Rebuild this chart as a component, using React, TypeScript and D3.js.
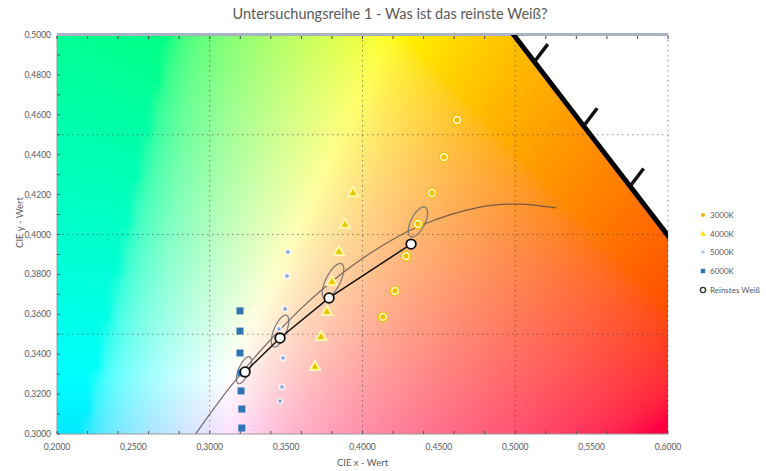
import React, { useMemo } from "react";
import * as d3 from "d3";

const W = 766;
const H = 471;
const TITLE = "Untersuchungsreihe 1 - Was ist das reinste Weiß?";
const X_LABEL = "CIE x - Wert";
const Y_LABEL = "CIE y - Wert";

const X_TICKS = [0.2, 0.25, 0.3, 0.35, 0.4, 0.45, 0.5, 0.55, 0.6];
const Y_TICKS = [0.3, 0.32, 0.34, 0.36, 0.38, 0.4, 0.42, 0.44, 0.46, 0.48, 0.5];
const X_GRID = [0.3, 0.4, 0.5];
const Y_GRID = [0.35, 0.4, 0.45];

// measured series
const S3000_X = [0.4619, 0.4534, 0.4455, 0.4363, 0.4285, 0.4213, 0.4134];
const S3000_Y = [0.4574, 0.4388, 0.4208, 0.4053, 0.3892, 0.3717, 0.3587];
const S4000_X = [0.3938, 0.3885, 0.3846, 0.38, 0.3767, 0.3728, 0.3689];
const S4000_Y = [0.4213, 0.4053, 0.3917, 0.3767, 0.3617, 0.3491, 0.3341];
const S5000_X = [0.3512, 0.3506, 0.3493, 0.3453, 0.348, 0.3473, 0.346];
const S5000_Y = [0.3912, 0.3792, 0.3627, 0.3526, 0.3381, 0.3236, 0.3165];
const S6000_X = [0.3198, 0.3198, 0.3198, 0.3205, 0.3205, 0.321, 0.321];
const S6000_Y = [0.3617, 0.3516, 0.3406, 0.3306, 0.3216, 0.3125, 0.303];
const PURE_X = [0.3231, 0.346, 0.3781, 0.4318];
const PURE_Y = [0.3311, 0.3481, 0.3682, 0.3952];

// Planckian locus (CIE 1931 xy)
const PLANCK_T = [2000, 2200, 2500, 3000, 3500, 4000, 4500, 5000, 5500, 6000, 6500, 7000, 8000, 9000];
const PLANCK_X = [0.5267, 0.502, 0.477, 0.4369, 0.4053, 0.3805, 0.3608, 0.3451, 0.3325, 0.3221, 0.3135, 0.3064, 0.2952, 0.2869];
const PLANCK_Y = [0.4133, 0.4152, 0.4137, 0.4041, 0.3907, 0.3768, 0.3636, 0.3516, 0.3411, 0.3318, 0.3237, 0.3166, 0.3048, 0.2956];

// tolerance ellipses
const ELL_CX = [0.4363, 0.3807, 0.346, 0.3224];
const ELL_CY = [0.4063, 0.3767, 0.3516, 0.332];
const ELL_A = [0.0088, 0.01035, 0.009, 0.0077];
const ELL_B = [0.0043, 0.0044, 0.0039, 0.0033];
const ELL_THETA = [53, 54, 59, 58];

// spectral locus (CIE 1931 2°)
const LOCUS_NM = [560, 565, 570, 575, 580, 585, 590, 595, 600, 605, 610];
const LOCUS_X = [0.3731, 0.4087, 0.4441, 0.4788, 0.5125, 0.5448, 0.5752, 0.6029, 0.627, 0.6482, 0.6658];
const LOCUS_Y = [0.6245, 0.5896, 0.5547, 0.5202, 0.4866, 0.4544, 0.4242, 0.3965, 0.3725, 0.3514, 0.334];
const LOCUS_TICKS = [580, 585, 590];

const LEGEND = ["3000K", "4000K", "5000K", "6000K", "Reinstes Weiß"];

const FONT = "Lato, 'Open Sans', sans-serif";
const TXT = "#595959";

const PL = 57, PR = 668, PT = 35, PB = 434;

function xyToRgb(x: number, y: number): string {
  const X = x / y;
  const Y = 1;
  const Z = (1 - x - y) / y;
  let r = 3.2406 * X - 1.5372 * Y - 0.4986 * Z;
  let g = -0.9689 * X + 1.8758 * Y + 0.0415 * Z;
  let b = 0.0557 * X - 0.204 * Y + 1.057 * Z;
  r = Math.max(0, r);
  g = Math.max(0, g);
  b = Math.max(0, b);
  const m = Math.max(r, g, b, 1e-6);
  const gam = (v: number) => {
    v = v / m;
    return v <= 0.0031308 ? 12.92 * v : 1.055 * Math.pow(v, 1 / 2.4) - 0.055;
  };
  return d3.rgb(gam(r) * 255, gam(g) * 255, gam(b) * 255).formatHex();
}

const fmt = (v: number, d: number) => d3.format(`.${d}f`)(v).replace(".", ",");

export default function App() {
  const x = d3.scaleLinear().domain([0.2, 0.6]).range([PL, PR]);
  const y = d3.scaleLinear().domain([0.3, 0.5]).range([PB, PT]);

  const rows = useMemo(() => {
    const out: { py: number; stops: { o: number; c: string }[] }[] = [];
    for (let py = PT; py < PB; py += 2) {
      const dy = y.invert(py + 1);
      const stops: { o: number; c: string }[] = [];
      for (let px = PL; px <= PR + 0.1; px += 10) {
        const dx = x.invert(px);
        stops.push({ o: (px - PL) / (PR - PL), c: xyToRgb(dx, dy) });
      }
      out.push({ py, stops });
    }
    return out;
  }, []);

  const locusPts = LOCUS_X.map((lx, i) => [x(lx), y(LOCUS_Y[i])] as [number, number]);
  const clipPoly = [
    [x(0.15), y(0.7)],
    ...locusPts,
    [x(0.7), y(0.25)],
    [x(0.15), y(0.25)],
  ];

  const planckLine = d3
    .line<number>()
    .x((i) => x(PLANCK_X[i]))
    .y((i) => y(PLANCK_Y[i]))
    .curve(d3.curveCatmullRom)(PLANCK_T.map((_, i) => i));

  const pureLine = d3
    .line<number>()
    .x((i) => x(PURE_X[i]))
    .y((i) => y(PURE_Y[i]))(PURE_X.map((_, i) => i));

  const ellipses = ELL_CX.map((cx, k) => {
    const th = (ELL_THETA[k] * Math.PI) / 180;
    const pts = d3.range(0, 72).map((j) => {
      const t = (j / 72) * 2 * Math.PI;
      const ex = cx + ELL_A[k] * Math.cos(th) * Math.cos(t) - ELL_B[k] * Math.sin(th) * Math.sin(t);
      const ey = ELL_CY[k] + ELL_A[k] * Math.sin(th) * Math.cos(t) + ELL_B[k] * Math.cos(th) * Math.sin(t);
      return [x(ex), y(ey)] as [number, number];
    });
    return d3.line().curve(d3.curveLinearClosed)(pts);
  });

  const locusTicks = LOCUS_TICKS.map((nm) => {
    const i = LOCUS_NM.indexOf(nm);
    const tx = LOCUS_X[i + 1] - LOCUS_X[i - 1];
    const ty = LOCUS_Y[i + 1] - LOCUS_Y[i - 1];
    const len = Math.hypot(tx, ty);
    const nx = ty / len;
    const ny = -tx / len;
    const L = 0.0125;
    return {
      x1: x(LOCUS_X[i]),
      y1: y(LOCUS_Y[i]),
      x2: x(LOCUS_X[i] - nx * L),
      y2: y(LOCUS_Y[i] - ny * L),
    };
  });

  const tri = d3.symbol().type(d3.symbolTriangle).size(55)() as string;
  const triSmall = d3.symbol().type(d3.symbolTriangle).size(14)() as string;

  const legendY = [215, 234, 252, 271, 290];

  return (
    <svg
      width={W}
      height={H}
      style={{ position: "absolute", left: 0, top: 0, background: "#fff" }}
      fontFamily={FONT}
    >
      <defs>
        {rows.map((r, i) => (
          <linearGradient key={i} id={`row${i}`} gradientUnits="userSpaceOnUse" x1={PL} x2={PR} y1={0} y2={0}>
            {r.stops.map((s, j) => (
              <stop key={j} offset={s.o} stopColor={s.c} />
            ))}
          </linearGradient>
        ))}
        <clipPath id="plotClip">
          <rect x={PL} y={PT} width={PR - PL} height={PB - PT} />
        </clipPath>
        <clipPath id="locusClip">
          <polygon points={clipPoly.map((p) => p.join(",")).join(" ")} />
        </clipPath>
      </defs>

      <rect width={W} height={H} fill="#fff" />

      <text x={390} y={19} textAnchor="middle" fontSize={14.5} fill={TXT}>
        {TITLE}
      </text>

      {/* background chromaticity */}
      <g clipPath="url(#plotClip)">
        <g clipPath="url(#locusClip)">
          {rows.map((r, i) => (
            <rect key={i} x={PL} y={r.py} width={PR - PL} height={2.6} fill={`url(#row${i})`} />
          ))}
        </g>
      </g>

      {/* grid */}
      <g stroke="#3a3a3a" strokeOpacity={0.55} strokeWidth={1} strokeDasharray="1.5,3.5">
        {X_GRID.map((g) => (
          <line key={"gx" + g} x1={x(g)} x2={x(g)} y1={PT} y2={PB} />
        ))}
        {Y_GRID.map((g) => (
          <line key={"gy" + g} x1={PL} x2={PR} y1={y(g)} y2={y(g)} />
        ))}
        <line x1={PR} x2={PR} y1={PT} y2={PB} />
      </g>

      {/* axes */}
      <g stroke="#9a9a9a" strokeWidth={1}>
        <line x1={PL} x2={PL} y1={PT} y2={PB} />
        <line x1={PL} x2={PR} y1={PB} y2={PB} />
        {d3.range(0.3, 0.5001, 0.01).map((v) => (
          <line key={"ty" + v} x1={PL} x2={PL + 3} y1={y(v)} y2={y(v)} stroke="#555" />
        ))}
        {d3.range(0.2, 0.6001, 0.02).map((v) => (
          <line key={"tx" + v} x1={x(v)} x2={x(v)} y1={PB} y2={PB - 3} stroke="#555" />
        ))}
      </g>
      <rect x={PL} y={PT - 2} width={PR - PL} height={3} fill="#a9b3c6" />
      {d3.range(0.2, 0.6001, 0.02).map((v) => (
        <line key={"tt" + v} x1={x(v)} x2={x(v)} y1={PT + 1} y2={PT + 4} stroke="#444" strokeWidth={1} />
      ))}

      {/* spectral locus */}
      <g clipPath="url(#plotClip)">
        <path
          d={d3.line()(locusPts) as string}
          fill="none"
          stroke="#000"
          strokeWidth={5}
          strokeLinejoin="round"
        />
        {locusTicks.map((t, i) => (
          <line key={i} x1={t.x1} y1={t.y1} x2={t.x2} y2={t.y2} stroke="#111" strokeWidth={3.5} />
        ))}
      </g>

      {/* planckian locus */}
      <g clipPath="url(#plotClip)">
        <path d={planckLine as string} fill="none" stroke="#4a4040" strokeOpacity={0.75} strokeWidth={1.2} />
      </g>

      {/* ellipses */}
      {ellipses.map((d, i) => (
        <path key={i} d={d as string} fill="none" stroke="#6e6e6e" strokeOpacity={0.85} strokeWidth={1.3} />
      ))}

      {/* 6000K */}
      {S6000_X.map((v, i) => (
        <rect key={"s6" + i} x={x(v) - 3.5} y={y(S6000_Y[i]) - 3.5} width={7} height={7} fill="#2e75b6" />
      ))}
      {/* 5000K */}
      {S5000_X.map((v, i) => (
        <circle key={"s5" + i} cx={x(v)} cy={y(S5000_Y[i])} r={2.6} fill="#8aa6d6" stroke="#ffffff" strokeOpacity={0.8} strokeWidth={1.6} />
      ))}
      {/* 4000K */}
      {S4000_X.map((v, i) => (
        <g key={"s4" + i} transform={`translate(${x(v)},${y(S4000_Y[i]) + 1})`}>
          <path d={tri} fill="#ffea3c" stroke="#fffbd0" strokeWidth={1.2} />
          <path d={triSmall} fill="#e2c000" />
        </g>
      ))}
      {/* 3000K */}
      {S3000_X.map((v, i) => (
        <g key={"s3" + i}>
          <circle cx={x(v)} cy={y(S3000_Y[i])} r={5.5} fill="#f4c010" />
          <circle cx={x(v)} cy={y(S3000_Y[i])} r={3.4} fill="#f2c200" stroke="#fff8d8" strokeWidth={1.5} />
        </g>
      ))}

      {/* Reinstes Weiß */}
      <path d={pureLine as string} fill="none" stroke="#111" strokeWidth={1.5} />
      {PURE_X.map((v, i) => (
        <circle key={"p" + i} cx={x(v)} cy={y(PURE_Y[i])} r={4.8} fill="#fff" stroke="#111" strokeWidth={1.8} />
      ))}

      {/* tick labels */}
      {Y_TICKS.map((v) => (
        <text key={"yl" + v} x={51} y={y(v) + 3} textAnchor="end" fontSize={8.5} fill={TXT}>
          {fmt(v, 4)}
        </text>
      ))}
      {X_TICKS.map((v) => (
        <text key={"xl" + v} x={x(v)} y={450} textAnchor="middle" fontSize={8.5} fill={TXT}>
          {fmt(v, 4)}
        </text>
      ))}
      <text x={x(0.4)} y={466} textAnchor="middle" fontSize={9.5} fill={TXT}>
        {X_LABEL}
      </text>
      <text transform={`translate(23,${(PT + PB) / 2 - 12}) rotate(-90)`} textAnchor="middle" fontSize={9.5} fill={TXT}>
        {Y_LABEL}
      </text>

      {/* legend */}
      {LEGEND.map((lab, i) => {
        const ly = legendY[i];
        const mx = 703;
        let marker: React.ReactNode = null;
        if (i === 0) marker = <circle cx={mx} cy={ly} r={2} fill="#f4b400" />;
        if (i === 1) marker = <path d={triSmall} transform={`translate(${mx},${ly})`} fill="#f6e000" />;
        if (i === 2) marker = <circle cx={mx} cy={ly} r={1.8} fill="#b5c4dc" />;
        if (i === 3) marker = <rect x={mx - 2.2} y={ly - 2.2} width={4.4} height={4.4} fill="#2e75b6" />;
        if (i === 4) marker = <circle cx={mx} cy={ly} r={2.6} fill="#fff" stroke="#333" strokeWidth={1.4} />;
        return (
          <g key={lab}>
            {marker}
            <text x={710} y={ly + 3} fontSize={8} fill={TXT}>
              {lab}
            </text>
          </g>
        );
      })}
    </svg>
  );
}
